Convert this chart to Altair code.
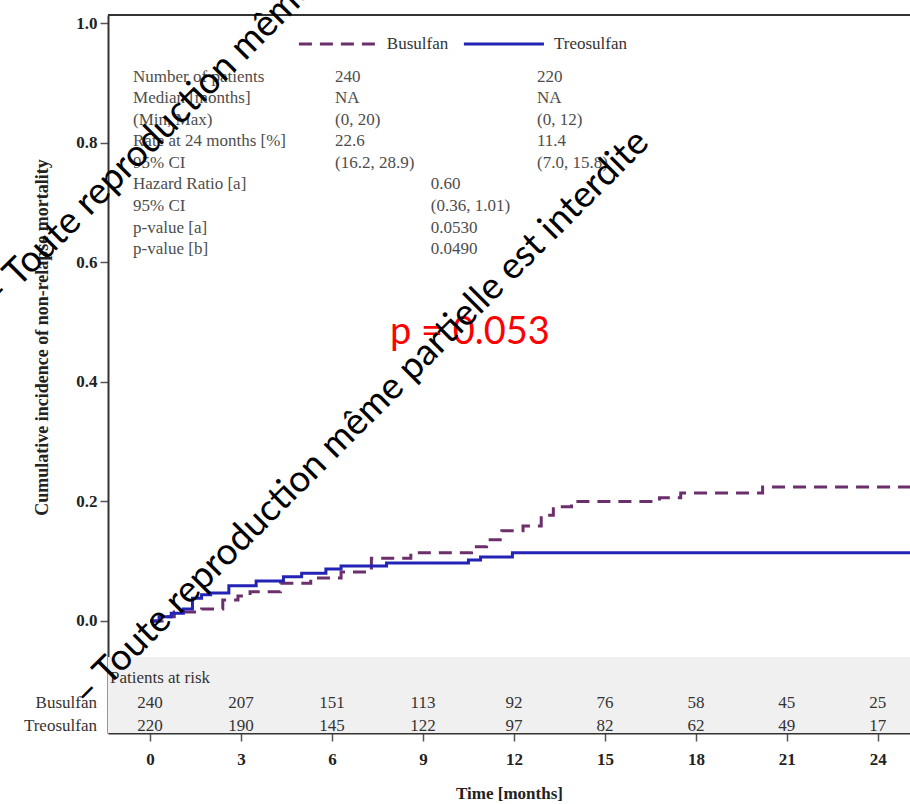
import altair as alt
import pandas as pd

# ---------------- data ----------------
arms = ["Busulfan", "Treosulfan"]

bu_time = [0, 0.4, 0.8, 1.7, 2.4, 2.9, 3.3, 4.3, 5.3, 6.3, 7.3, 8.6, 10.6, 11.1,
           11.6, 12.3, 12.9, 13.3, 13.9, 16.8, 17.5, 20.2, 26.0]
bu_cif = [0, 0.007, 0.015, 0.020, 0.035, 0.042, 0.049, 0.063, 0.072, 0.082, 0.105,
          0.114, 0.124, 0.136, 0.151, 0.159, 0.177, 0.191, 0.200, 0.206, 0.214,
          0.224, 0.224]
tr_time = [0, 0.3, 0.7, 1.1, 1.4, 1.7, 2.0, 2.6, 3.5, 4.4, 5.0, 5.8, 6.3, 7.8,
           10.5, 10.9, 11.95, 26.0]
tr_cif = [0, 0.007, 0.013, 0.020, 0.038, 0.044, 0.047, 0.059, 0.067, 0.074, 0.080,
          0.087, 0.092, 0.097, 0.102, 0.107, 0.114, 0.114]

risk_times = [0, 3, 6, 9, 12, 15, 18, 21, 24]
risk_busulfan = [240, 207, 151, 113, 92, 76, 58, 45, 25]
risk_treosulfan = [220, 190, 145, 122, 97, 82, 62, 49, 17]

stat_labels = ["Number of patients", "Median [months]", "(Min, Max)",
               "Rate at 24 months [%]", "95% CI", "Hazard Ratio [a]", "95% CI",
               "p-value [a]", "p-value [b]"]
stat_busulfan = ["240", "NA", "(0, 20)", "22.6", "(16.2, 28.9)"]
stat_treosulfan = ["220", "NA", "(0, 12)", "11.4", "(7.0, 15.8)"]
stat_overall = ["0.60", "(0.36, 1.01)", "0.0530", "0.0490"]

y_ticks = [0.0, 0.2, 0.4, 0.6, 0.8, 1.0]
p_text = "p = 0.053"
watermark = "\u2013 Toute reproduction m\u00eame partielle est interdite"

# ---------------- layout (data units) ----------------
XMIN, XMAX = -1.385, 25.06
YMIN, YMAX = -0.1873, 1.0134
W, H = 802, 718
COL_LABEL, COL_BU, COL_HR, COL_TR = -0.56, 6.10, 9.26, 12.76
ROW_TOP, ROW_STEP = 0.910, 0.036
RISK_LABEL_X = -1.75
RISK_ROW_Y = [-0.137, -0.176]
RISK_TITLE = (-1.32, -0.0953)
BAND_TOP = -0.060
LEG_Y = 0.965
LEG_SEG = [(4.91, 7.55, 7.81), (10.35, 12.99, 13.32)]
P_POS = (10.55, 0.482)
WM_POS = [(3.99, 1.005), (6.96, 0.339)]

colors = ["#6b2f6b", "#2323b5"]
dashes = [[13, 8], [1, 0]]

xs = alt.Scale(domain=[XMIN, XMAX], nice=False, zero=False)
ys = alt.Scale(domain=[YMIN, YMAX], nice=False, zero=False)
cs = alt.Scale(domain=arms, range=colors)
ds = alt.Scale(domain=arms, range=dashes)
SERIF = "Liberation Serif"

x_axis = alt.Axis(
    values=risk_times, title="Time [months]", grid=False,
    labelFont=SERIF, labelFontSize=17, labelFontWeight="bold", labelColor="#222",
    titleFont=SERIF, titleFontSize=17, titleFontWeight="bold", titleColor="#222",
    tickSize=8, tickColor="#555", tickWidth=1.5, domainColor="#333",
    domainWidth=2, labelPadding=10, titlePadding=18, labelFlush=False)
y_axis = alt.Axis(
    values=y_ticks, format=".1f", grid=False,
    title="Cumulative incidence of non-relapse mortality",
    labelFont=SERIF, labelFontSize=17, labelFontWeight="bold", labelColor="#222",
    titleFont=SERIF, titleFontSize=18, titleFontWeight="bold", titleColor="#222",
    tickSize=8, tickColor="#555", tickWidth=1.5, domainColor="#333",
    domainWidth=2, labelPadding=3, titleX=-66, titleY=322, titleAngle=270,
    titleAlign="center", titleBaseline="middle")


def X(field):
    return alt.X(field, scale=xs, axis=x_axis)


def Y(field):
    return alt.Y(field, scale=ys, axis=y_axis)


curves = pd.DataFrame(
    {"t": bu_time + tr_time, "v": bu_cif + tr_cif,
     "arm": ["Busulfan"] * len(bu_time) + ["Treosulfan"] * len(tr_time)})

band = pd.DataFrame({"x": [XMIN], "x2": [XMAX], "y": [BAND_TOP], "y2": [YMIN]})

band_layer = alt.Chart(band).mark_rect(color="#f0f0f0").encode(
    x=X("x:Q"), x2="x2:Q", y=Y("y:Q"), y2="y2:Q")

line_layer = alt.Chart(curves).mark_line(
    interpolate="step-after", strokeWidth=3, clip=True).encode(
    x=X("t:Q"), y=Y("v:Q"),
    color=alt.Color("arm:N", scale=cs, legend=None),
    strokeDash=alt.StrokeDash("arm:N", scale=ds, legend=None),
    detail="arm:N")

leg = pd.DataFrame({"arm": arms,
                    "x": [s[0] for s in LEG_SEG], "x2": [s[1] for s in LEG_SEG],
                    "tx": [s[2] for s in LEG_SEG], "y": [LEG_Y, LEG_Y]})
leg_rule = alt.Chart(leg).mark_rule(strokeWidth=3).encode(
    x=X("x:Q"), x2="x2:Q", y=Y("y:Q"),
    color=alt.Color("arm:N", scale=cs, legend=None),
    strokeDash=alt.StrokeDash("arm:N", scale=ds, legend=None))
leg_text = alt.Chart(leg).mark_text(
    align="left", baseline="middle", font=SERIF, fontSize=17, color="#333").encode(
    x=X("tx:Q"), y=Y("y:Q"), text="arm:N")

rows = []
for i, lab in enumerate(stat_labels):
    rows.append({"x": COL_LABEL, "y": ROW_TOP - i * ROW_STEP, "text": lab})
for i, (b, t) in enumerate(zip(stat_busulfan, stat_treosulfan)):
    rows.append({"x": COL_BU, "y": ROW_TOP - i * ROW_STEP, "text": b})
    rows.append({"x": COL_TR, "y": ROW_TOP - i * ROW_STEP, "text": t})
for j, h in enumerate(stat_overall):
    rows.append({"x": COL_HR, "y": ROW_TOP - (j + 5) * ROW_STEP, "text": h})
stats = pd.DataFrame(rows)
stats_layer = alt.Chart(stats).mark_text(
    align="left", baseline="middle", font=SERIF, fontSize=17, color="#4d4d4d").encode(
    x=X("x:Q"), y=Y("y:Q"), text="text:N")

risk_rows = []
for arm, counts, ry in zip(arms, [risk_busulfan, risk_treosulfan], RISK_ROW_Y):
    for tt, n in zip(risk_times, counts):
        risk_rows.append({"x": tt, "y": ry, "text": str(n)})
risk = pd.DataFrame(risk_rows)
risk_layer = alt.Chart(risk).mark_text(
    align="center", baseline="middle", font=SERIF, fontSize=17, color="#333").encode(
    x=X("x:Q"), y=Y("y:Q"), text="text:N")
risk_lab = pd.DataFrame({"x": [RISK_LABEL_X] * 2, "y": RISK_ROW_Y, "text": arms})
risk_lab_layer = alt.Chart(risk_lab).mark_text(
    align="right", baseline="middle", font=SERIF, fontSize=17, color="#333").encode(
    x=X("x:Q"), y=Y("y:Q"), text="text:N")
risk_title = pd.DataFrame({"x": [RISK_TITLE[0]], "y": [RISK_TITLE[1]],
                           "text": ["Patients at risk"]})
risk_title_layer = alt.Chart(risk_title).mark_text(
    align="left", baseline="middle", font=SERIF, fontSize=17, color="#333").encode(
    x=X("x:Q"), y=Y("y:Q"), text="text:N")

top_frame = alt.Chart(band).mark_rule(color="#333", strokeWidth=2).encode(
    x=alt.value(0), x2=alt.value(W), y=alt.value(0))

pdf = pd.DataFrame({"x": [P_POS[0]], "y": [P_POS[1]], "text": [p_text]})
p_layer = alt.Chart(pdf).mark_text(
    align="center", baseline="middle", font="Lato", fontSize=38, color="#ff0000").encode(
    x=X("x:Q"), y=Y("y:Q"), text="text:N")

wm = pd.DataFrame({"x": [p[0] for p in WM_POS], "y": [p[1] for p in WM_POS],
                   "text": [watermark] * 2})
wm_layer = alt.Chart(wm).mark_text(
    align="center", baseline="middle", font="Lato", fontSize=37, color="#000000",
    angle=315).encode(
    x=X("x:Q"), y=Y("y:Q"), text="text:N")

chart = alt.layer(
    band_layer, line_layer, leg_rule, leg_text, stats_layer, risk_layer,
    risk_lab_layer, risk_title_layer, top_frame, p_layer, wm_layer
).properties(
    width=W, height=H,
    padding={"left": 108, "top": 15, "right": 0, "bottom": 71},
    autosize=alt.AutoSizeParams(type="none"),
    background="white",
).configure_view(stroke=None)

chart.save("out.html", embed_options={"renderer": "svg", "actions": False})
